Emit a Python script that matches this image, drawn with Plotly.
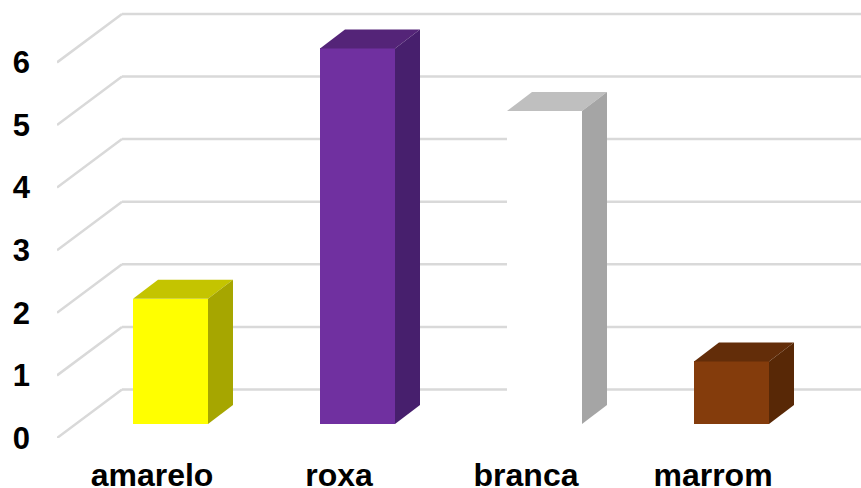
import plotly.graph_objects as go

categories = ["amarelo", "roxa", "branca", "marrom"]
values = [2, 6, 5, 1]
y_ticks = [0, 1, 2, 3, 4, 5, 6]
front_colors = ["#ffff00", "#7030a0", "#ffffff", "#843c0c"]
top_colors = ["#c4c400", "#542478", "#bfbfbf", "#632d09"]
side_colors = ["#a6a600", "#471f6d", "#a5a5a5", "#582806"]

W, H = 861, 488
PL, PR, PT, PB = 57, 861, 10, 438      # plot box in px
UX, UY = 187.0, 62.6                   # px per category / per value
X0 = 152.0                             # px of category 0 label

x_range = [(PL - X0) / UX, (PR - X0) / UX]
y_range = [0, (PB - PT) / UY]

bar_w = 75 / UX
bar_off = (170.5 - X0) / UX - bar_w / 2
bar_base = (PB - 424) / UY
dx, dy = 25 / UX, 19 / UY              # bar depth
wall_x = 65 / UX                       # wall depth
wall_y = 48.5 / UY

fig = go.Figure()

idx = list(range(len(categories)))
fig.add_trace(go.Bar(
    x=idx, y=values, base=bar_base, width=bar_w, offset=bar_off,
    marker=dict(color=front_colors, line=dict(width=0)),
    hoverinfo="skip", showlegend=False,
))

for i, v in zip(idx, values):
    xl = i + bar_off
    xr = xl + bar_w
    yb = bar_base
    yt = bar_base + v
    fig.add_trace(go.Scatter(
        x=[xl, xl + dx, xr + dx, xr, xl], y=[yt, yt + dy, yt + dy, yt, yt],
        mode="lines", fill="toself", fillcolor=top_colors[i], line=dict(width=0),
        hoverinfo="skip", showlegend=False,
    ))
    fig.add_trace(go.Scatter(
        x=[xr, xr + dx, xr + dx, xr, xr], y=[yb, yb + dy, yt + dy, yt, yb],
        mode="lines", fill="toself", fillcolor=side_colors[i], line=dict(width=0),
        hoverinfo="skip", showlegend=False,
    ))

grid = dict(color="#d9d9d9", width=2.5)
shapes = []
for t in y_ticks:
    wx = x_range[0] + wall_x
    wy = t + wall_y
    shapes.append(dict(type="line", layer="below", xref="x", yref="y",
                       x0=x_range[0], y0=t, x1=wx, y1=wy, line=grid))
    shapes.append(dict(type="line", layer="below", xref="x", yref="y",
                       x0=wx, y0=wy, x1=x_range[1], y1=wy, line=grid))

xfont = dict(family="Liberation Sans, Arial, sans-serif", size=32, color="#000000", weight="bold")
yfont = dict(family="Liberation Sans, Arial, sans-serif", size=31, color="#000000", weight="bold")

fig.update_layout(
    width=W, height=H,
    margin=dict(l=PL, r=W - PR, t=PT, b=H - PB, pad=0, autoexpand=False),
    paper_bgcolor="#ffffff", plot_bgcolor="#ffffff",
    shapes=shapes, showlegend=False, bargap=0,
    xaxis=dict(range=x_range, tickmode="array", tickvals=idx, ticktext=categories,
               showgrid=False, zeroline=False, showline=False, ticks="", automargin=False,
               tickfont=xfont, ticklabelstandoff=15, fixedrange=True),
    yaxis=dict(range=y_range, tickmode="array", tickvals=y_ticks,
               ticktext=[str(t) for t in y_ticks], automargin=False,
               showgrid=False, zeroline=False, showline=False, ticks="",
               tickfont=yfont, ticklabelstandoff=26, fixedrange=True),
)

fig.write_html("out.html", config=dict(displayModeBar=False),
               post_script="document.body.style.margin='0';document.documentElement.style.overflow='hidden';")
